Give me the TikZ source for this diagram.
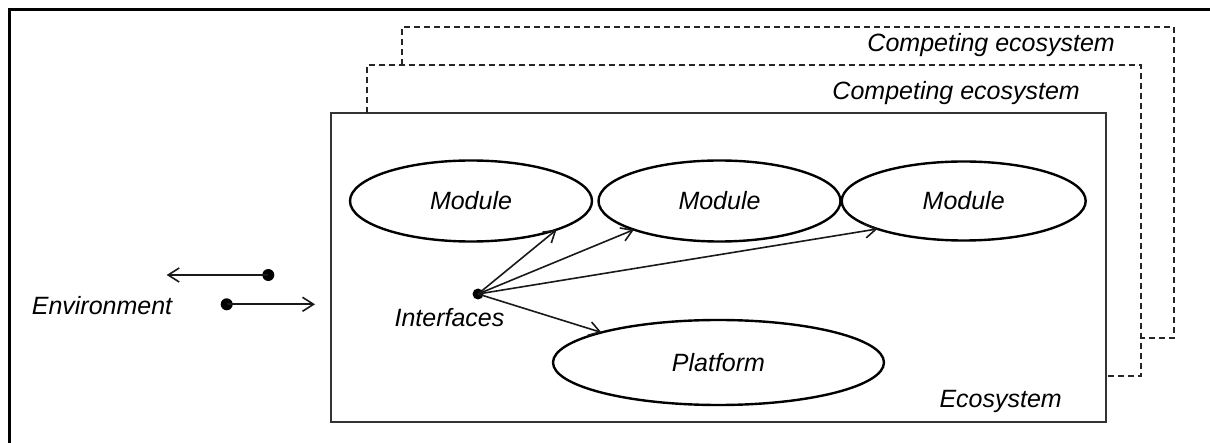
\documentclass[tikz,border=0pt]{standalone}
\usepackage{fontspec}
\setmainfont{Liberation Sans}
\usetikzlibrary{shapes.geometric,arrows.meta}

\tikzset{
  lbl/.style={font=\fontsize{25}{30}\selectfont\itshape, inner sep=0pt},
  module/.style={ellipse, draw=black, line width=2.4pt, inner sep=0pt, outer sep=0pt,
                 minimum width=242pt, minimum height=81pt,
                 font=\fontsize{25}{30}\selectfont\itshape},
  ecobox/.style={rectangle, draw=black!80, line width=2.2pt, inner sep=0pt, outer sep=0pt},
  rival/.style={draw=black!85, line width=2pt, dash pattern=on 6pt off 4pt},
  link/.style={draw=black!90, line width=1.6pt, -{Straight Barb[length=11pt,width=14pt,line width=1.6pt]}},
  dot/.style={circle, fill=black, inner sep=0pt, outer sep=0pt, minimum size=12pt},
}

\begin{document}
\begin{tikzpicture}[x=1pt, y=-1pt]
  \useasboundingbox (0,0) rectangle (1210,443);
  \clip (0,0) rectangle (1210,443);

  % outer frame (extends past the right and bottom edges)
  \draw[line width=3pt] (9,460) -- (9,10) -- (1230,10);

  % the ecosystem
  \node[ecobox, minimum width=775pt, minimum height=309pt] (eco) at (718.5,267.5) {};
  \node[lbl, anchor=east] (ecolbl) at (1062,401) {Ecosystem};

  % two competing ecosystems stacked behind it
  \coordinate (c1a) at (366.7,113);
  \coordinate (c1b) at (1106,376);
  \draw[rival] (c1a) -- (366.7,65) -- (1141,65) -- (1141,376) -- (c1b);
  \node[lbl, anchor=east] (comp1) at (1080,93) {Competing ecosystem};

  \coordinate (c2a) at (402.3,65);
  \coordinate (c2b) at (1141,338);
  \draw[rival] (c2a) -- (402.3,27) -- (1174,27) -- (1174,338) -- (c2b);
  \node[lbl, anchor=east] (comp2) at (1115,45) {Competing ecosystem};

  % modules and platform
  \node[module] (m1) at (471,201) {Module};
  \node[module] (m2) at (719.5,201) {Module};
  \node[module, minimum width=244pt, minimum height=79pt] (m3) at (963.7,201) {Module};
  \node[module, minimum width=331pt, minimum height=85pt] (pf) at (718.5,362.5) {Platform};

  % interfaces
  \node[dot, minimum size=11pt] (if) at (478,294) {};
  \node[lbl] (iflbl) at (449.5,318) {Interfaces};
  \draw[link] (if.center) -- (m1.south east);
  \draw[link] (if.center) -- (m2.south west);
  \draw[link] (if.center) -- (m3.south west);
  \draw[link] (if.center) -- (pf.north west);

  % exchange with the environment
  \node[lbl] (env) at (102,306) {Environment};
  \node[dot] (d1) at (268.3,275) {};
  \coordinate (t1) at (166.7,275);
  \node[dot] (d2) at (226.7,304.3) {};
  \coordinate (t2) at (315,304.3);
  \draw[link] (d1.center) -- (t1);
  \draw[link] (d2.center) -- (t2);
\end{tikzpicture}
\end{document}
